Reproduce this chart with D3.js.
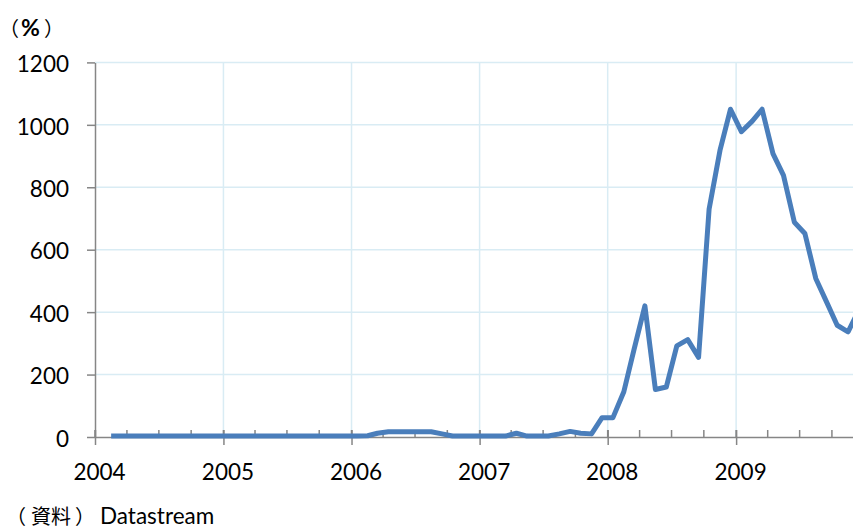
<!DOCTYPE html>
<html><head><meta charset="utf-8">
<script src="https://cdn.jsdelivr.net/npm/d3@7"></script>
<style>body{margin:0;background:#fff}svg{display:block}</style>
</head><body><svg id="c" width="853" height="529"></svg>
<script>
// monthly values from Feb 2004 to Dec 2009 (%)
const values2004 = [3,3,3,3,3,3,3,3,3,3,3];           // Feb-Dec
const values2005 = [3,3,3,3,3,3,3,3,3,3,3,3];
const values2006 = [3,4,12,17,17,17,17,17,10,3,3,3];
const values2007 = [3,3,3,12,3,3,3,10,18,12,10,62];
const values2008 = [62,145,280,420,152,160,292,312,255,730,918,1050];
const values2009 = [978,1012,1050,908,838,688,652,508,432,358,337,405];
const yTicks = [0,200,400,600,800,1000,1200];
const xYears = [2004,2005,2006,2007,2008,2009];

(function(){
const values = [].concat(values2004,values2005,values2006,values2007,values2008,values2009);
const data = values.map((v,i)=>({date:new Date(2004, 1+i, 16), v}));

const svg = d3.select("#c");
const pL = 95, pR = 864.2, pT = 62.4, pB = 437;
const x = d3.scaleTime().domain([new Date(2004,0,1), new Date(2010,0,1)]).range([pL, pR]);
const y = d3.scaleLinear().domain([0,1200]).range([pB, pT]);

const grid = "#d9ecf4";
svg.append("g").selectAll("line").data(yTicks.filter(d=>d>0)).join("line")
  .attr("x1", pL).attr("x2", 853).attr("y1", d=>y(d)).attr("y2", d=>y(d))
  .attr("stroke", grid).attr("stroke-width", 1.5);
svg.append("g").selectAll("line").data(xYears.slice(1)).join("line")
  .attr("x1", d=>x(new Date(d,0,1))).attr("x2", d=>x(new Date(d,0,1)))
  .attr("y1", pT).attr("y2", pB)
  .attr("stroke", grid).attr("stroke-width", 1.5);

const axisColor = "#868686";
const font = "Lato, 'Open Sans', sans-serif";
const ya = svg.append("g").attr("transform", `translate(${pL},0)`)
  .call(d3.axisLeft(y).tickValues(yTicks).tickFormat(d3.format("d")).tickSize(8).tickPadding(18).tickSizeOuter(0));
ya.select(".domain").attr("stroke", axisColor).attr("stroke-width", 1.5);
ya.selectAll(".tick line").attr("stroke", axisColor).attr("stroke-width", 1.5);
ya.selectAll("text").attr("font-family", font).attr("font-size", 22.5).attr("fill", "#000")
  .attr("dy", "0.41em").attr("x", -26);

const minor = d3.timeMonth.every(3).range(new Date(2004,0,1), new Date(2010,1,1));
svg.append("g").selectAll("line").data(minor).join("line")
  .attr("x1", d=>x(d)).attr("x2", d=>x(d)).attr("y1", pB-7).attr("y2", pB)
  .attr("stroke", axisColor).attr("stroke-width", 1.5);
const xa = svg.append("g").attr("transform", `translate(0,${pB})`)
  .call(d3.axisBottom(x).tickValues(xYears.map(d=>new Date(d,0,1))).tickFormat(d3.timeFormat("%Y"))
    .tickSize(8).tickPadding(19).tickSizeOuter(0));
xa.select(".domain").attr("stroke", axisColor).attr("stroke-width", 1.5);
xa.selectAll(".tick line").attr("stroke", axisColor).attr("stroke-width", 1.5).attr("y1", -7);
xa.selectAll("text").attr("font-family", font).attr("font-size", 22.5).attr("fill", "#000").attr("dx", 4);

svg.append("path").datum(data)
  .attr("d", d3.line().x(d=>x(d.date)).y(d=>y(d.v)))
  .attr("fill", "none").attr("stroke", "#4a7ebb").attr("stroke-width", 5)
  .attr("stroke-linejoin", "round").attr("stroke-linecap", "butt");

const cjk = "'Noto Sans CJK JP', sans-serif";
svg.append("text").attr("y", 36).attr("font-family", cjk).attr("font-size", 20)
  .call(t=>{
    t.append("tspan").attr("x", -1).text("（");
    t.append("tspan").attr("x", 21).attr("font-weight", 700).attr("font-family", font).attr("font-size", 23).text("%");
    t.append("tspan").attr("x", 44).text("）");
  });
svg.append("text").attr("y", 524).attr("font-family", cjk).attr("font-size", 20)
  .call(t=>{
    t.append("tspan").attr("x", 6).text("（");
    t.append("tspan").attr("x", 31).text("資料");
    t.append("tspan").attr("x", 75).text("）");
    t.append("tspan").attr("x", 100).attr("font-family", font).attr("font-size", 22.5).text("Datastream");
  });
})();
</script></body></html>
